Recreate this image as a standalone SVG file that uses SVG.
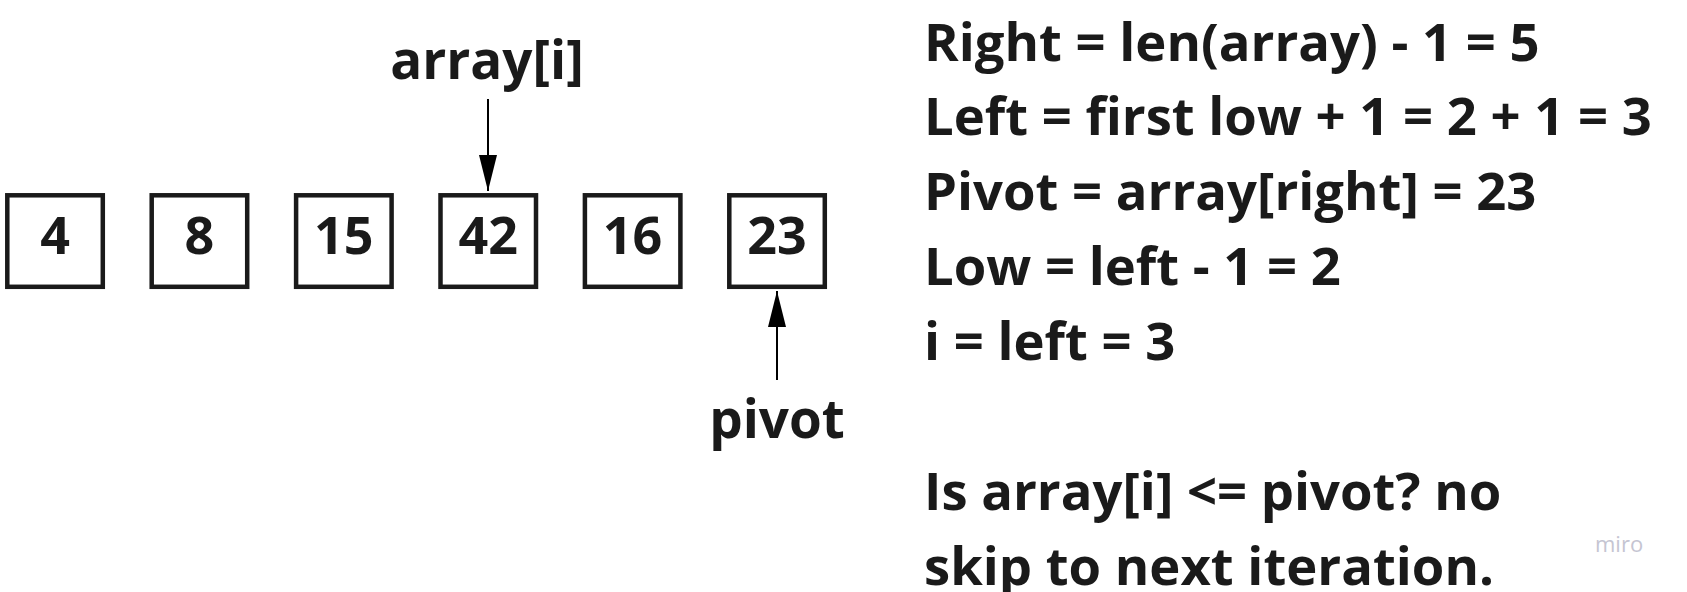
<svg xmlns="http://www.w3.org/2000/svg" width="1687" height="592" viewBox="0 0 1687 592">
<style>
text{font-family:"Open Sans","Liberation Sans",sans-serif;font-weight:700;fill:#1a1a1a}
.box{fill:#fff;stroke:#1a1a1a;stroke-width:4.5}
.num{font-size:52px;text-anchor:middle}
.lbl{font-size:53px;text-anchor:middle}
.eq{font-size:52.6px}
.edge{stroke:#000;stroke-width:2;fill:none}
.miro{font-size:22px;font-weight:400;fill:#c5c5d2}
</style>
<defs>
<marker id="ah" viewBox="0 0 36 18" refX="36" refY="9" markerWidth="36" markerHeight="18" markerUnits="userSpaceOnUse" orient="auto">
<path d="M0,0 L36,9 L0,18 Z" fill="#000"/>
</marker>
</defs>
<rect width="1687" height="592" fill="#fff"/>
<g id="n0"><rect class="box" x="7.3" y="195.3" width="95.5" height="91.5"/><text class="num" x="55" y="254">4</text></g>
<g id="n1"><rect class="box" x="151.7" y="195.3" width="95.5" height="91.5"/><text class="num" x="199.4" y="254">8</text></g>
<g id="n2"><rect class="box" x="296.1" y="195.3" width="95.5" height="91.5"/><text class="num" x="343.8" y="254">15</text></g>
<g id="n3"><rect class="box" x="440.5" y="195.3" width="95.5" height="91.5"/><text class="num" x="488.2" y="254">42</text></g>
<g id="n4"><rect class="box" x="584.9" y="195.3" width="95.5" height="91.5"/><text class="num" x="632.6" y="254">16</text></g>
<g id="n5"><rect class="box" x="729.3" y="195.3" width="95.5" height="91.5"/><text class="num" x="777" y="254">23</text></g>
<g id="label-i"><text class="lbl" x="487" y="79">array[i]</text></g>
<g id="label-pivot"><text class="lbl" x="777" y="438">pivot</text></g>
<g id="connectors">
<line class="edge" x1="488" y1="99" x2="488" y2="191" marker-end="url(#ah)"/>
<line class="edge" x1="777" y1="380" x2="777" y2="291" marker-end="url(#ah)"/>
</g>
<g id="notes">
<text class="eq" x="924" y="61">Right = len(array) - 1 = 5</text>
<text class="eq" x="924" y="135">Left = first low + 1 = 2 + 1 = 3</text>
<text class="eq" x="924" y="210">Pivot = array[right] = 23</text>
<text class="eq" x="924" y="285">Low = left - 1 = 2</text>
<text class="eq" x="924" y="360">i = left = 3</text>
<text class="eq" x="924" y="510">Is array[i] &lt;= pivot? no</text>
<text class="eq" x="924" y="585">skip to next iteration.</text>
</g>
<text class="miro" x="1595" y="552">miro</text>
</svg>
